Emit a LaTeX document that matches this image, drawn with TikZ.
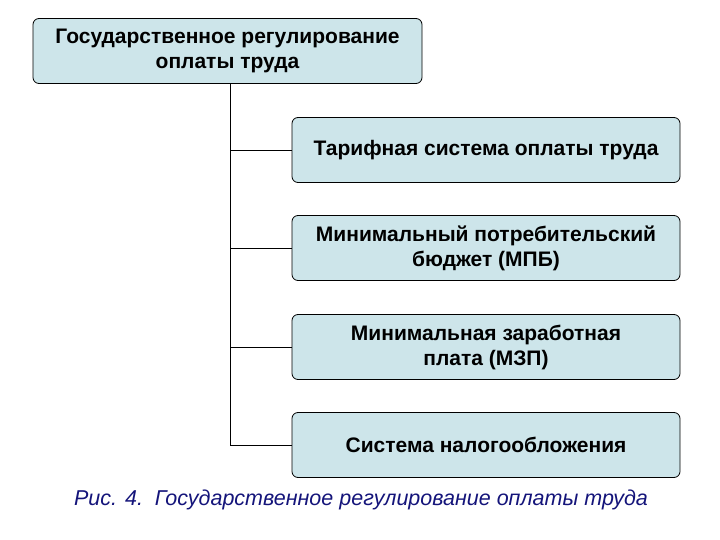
\documentclass[tikz,border=0pt]{standalone}
\usepackage{fontspec}
\setmainfont{Liberation Sans}
\definecolor{boxfill}{HTML}{CDE5EA}
\definecolor{capblue}{HTML}{14147A}
\begin{document}
\begin{tikzpicture}[x=1pt,y=-1pt,style=thick,
    block/.style={draw=black,fill=boxfill,rounded corners=6pt,minimum height=65pt,
      align=center,font=\fontsize{21}{25}\selectfont\bfseries,inner sep=2pt}]
    \useasboundingbox (0,0) rectangle (720,540);
    \node[block,minimum width=389pt] (Top) at (227.5,51) {Государственное регулирование\\оплаты труда};
    \node[block,minimum width=388pt] (B1) at (486,150) {Тарифная система оплаты труда};
    \node[block,minimum width=388pt] (B2) at (486,248) {Минимальный потребительский\\бюджет (МПБ)};
    \node[block,minimum width=388pt] (B3) at (486,347) {Минимальная заработная\\плата (МЗП)};
    \node[block,minimum width=388pt] (B4) at (486,445) {Система налогообложения};
    \coordinate (Trunk) at (230,0);
    \draw (Top.south -| Trunk) |- (B4.west);
    \draw (B1.west -| Trunk) -- (B1.west);
    \draw (B2.west -| Trunk) -- (B2.west);
    \draw (B3.west -| Trunk) -- (B3.west);
    \node[text=capblue,font=\fontsize{21.5}{25}\selectfont\itshape] (Cap) at (361,500)
      {Рис. 4.\ \ Государственное регулирование оплаты труда};
\end{tikzpicture}
\end{document}
